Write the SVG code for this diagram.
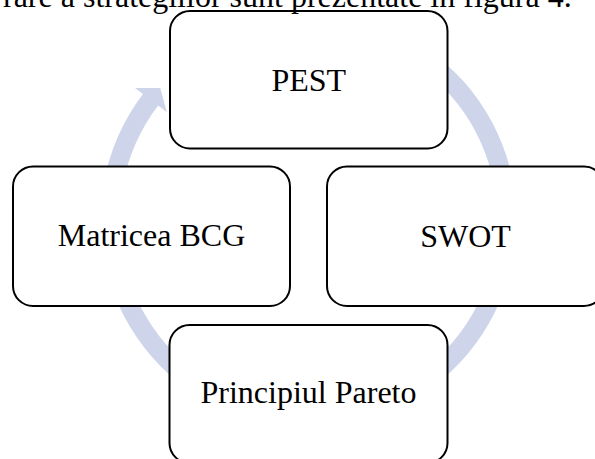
<svg xmlns="http://www.w3.org/2000/svg" width="595" height="459" viewBox="0 0 595 459">
  <style>
    .box { fill: #ffffff; stroke: #000000; stroke-width: 2; }
    .lbl { font-family: "Liberation Serif", "Times New Roman", serif; font-size: 32px; fill: #000000; text-anchor: middle; }
    .body { font-family: "Liberation Serif", "Times New Roman", serif; font-size: 32px; fill: #000000; }
    .cycle { fill: #CED5EA; stroke: none; }
  </style>
  <rect width="595" height="459" fill="#ffffff"/>
  <g id="connectors">
    <path class="cycle" d="M 237.36 24.54 A 208 208 0 1 1 142.99 94.02 L 135.03 87.97 L 160.29 87.95 L 166.86 112.19 L 158.11 105.53 A 189 189 0 1 0 243.86 42.4 Z"/>
  </g>
  <g id="node-pest">
    <rect class="box" x="170" y="11" width="277.5" height="137.5" rx="20" ry="20"/>
    <text class="lbl" x="308.75" y="90.5">PEST</text>
  </g>
  <g id="node-swot">
    <rect class="box" x="327" y="166.5" width="277" height="139.5" rx="20" ry="20"/>
    <text class="lbl" x="465.5" y="246.5">SWOT</text>
  </g>
  <g id="node-bcg">
    <rect class="box" x="13" y="166.5" width="277" height="139.5" rx="20" ry="20"/>
    <text class="lbl" x="151.5" y="246">Matricea BCG</text>
  </g>
  <g id="node-pareto">
    <rect class="box" x="169.5" y="325" width="278" height="138" rx="20" ry="20"/>
    <text class="lbl" x="308.5" y="403">Principiul Pareto</text>
  </g>
  <text class="body" x="3" y="7">rare a strategiilor sunt prezentate în figura 4.</text>
</svg>
